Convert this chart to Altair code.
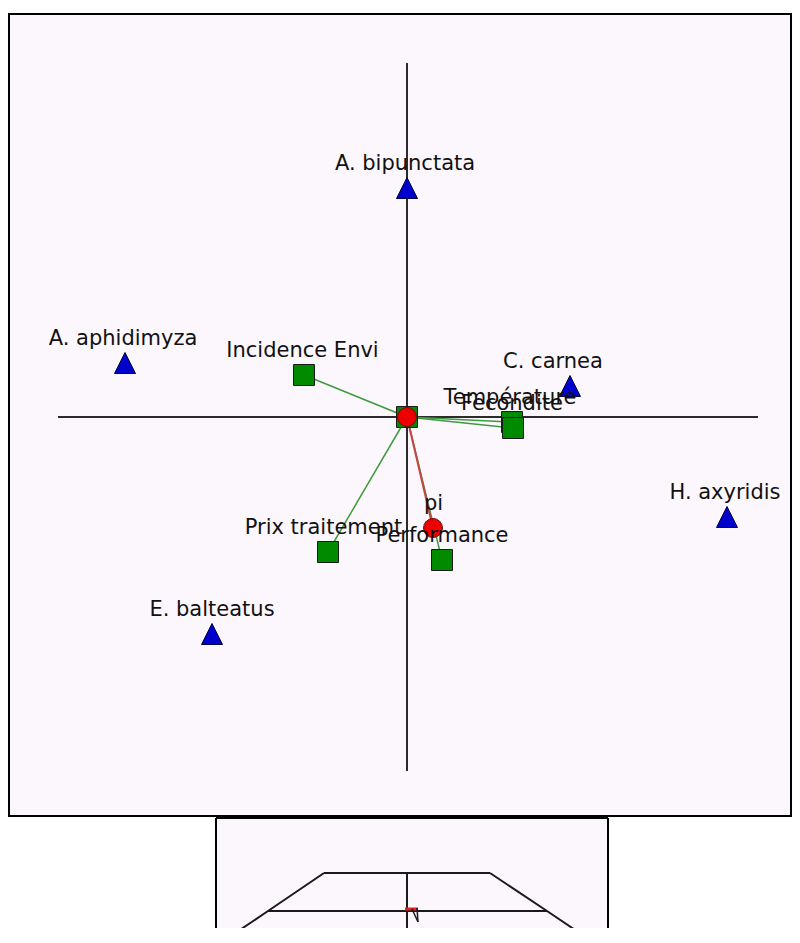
import altair as alt
import pandas as pd

# ---- ordination scores (main biplot), units ----
species = ["A. bipunctata", "A. aphidimyza", "C. carnea", "H. axyridis", "E. balteatus"]
species_x = [0.00, -2.82, 1.63, 3.20, -1.95]
species_y = [2.29, 0.54, 0.31, -1.00, -2.17]
species_label_x = [-0.02, -2.84, 1.46, 3.18, -1.95]

variables = ["Incidence Envi", "Température", "Fecondite", "Prix traitement", "Performance"]
variables_x = [-1.03, 1.05, 1.06, -0.79, 0.35]
variables_y = [0.42, -0.05, -0.11, -1.35, -1.43]
variables_label_x = [-1.045, 1.03, 1.05, -0.835, 0.35]

centroid_names = ["", "pi"]
centroid_x = [0.00, 0.26]
centroid_y = [0.00, -1.11]
centroid_label_x = [0.00, 0.265]

axis_h = [-3.49, 3.51]
axis_v = [3.54, -3.54]

# ---- small 3D orientation view (second panel) ----
frame_id = ["top", "top", "mid", "mid", "left", "left", "left", "right", "right", "right", "vert", "vert"]
frame_x = [-0.83, 0.83, -1.39, 1.40, -0.83, -1.39, -1.85, 0.83, 1.40, 1.86, 0.00, 0.00]
frame_y = [0.38, 0.38, 0.00, 0.00, 0.38, 0.00, -0.31, 0.38, 0.00, -0.31, 0.38, -0.31]
arrow_id = ["r", "r", "k1", "k1", "k2", "k2"]
arrow_x = [-0.02, 0.11, 0.05, 0.11, 0.10, 0.11]
arrow_y = [0.02, 0.02, 0.02, -0.11, 0.03, -0.11]

BG = "#fcf7fc"
FONT = "DejaVu Sans"
MAIN_W, MAIN_H = 782, 802
X_DOM = [-3.98, 3.84]
Y_DOM = [-3.99, 4.03]

sp = pd.DataFrame({"name": species, "x": species_x, "y": species_y, "lx": species_label_x})
var = pd.DataFrame({"name": variables, "x": variables_x, "y": variables_y, "lx": variables_label_x,
                    "x0": 0.0, "y0": 0.0})
cen = pd.DataFrame({"name": centroid_names, "x": centroid_x, "y": centroid_y, "lx": centroid_label_x,
                    "x0": 0.0, "y0": 0.0})
origin = pd.DataFrame({"x": [0.0], "y": [0.0]})
axes = pd.DataFrame({"x": [axis_h[0], 0.0], "x2": [axis_h[1], 0.0],
                     "y": [0.0, axis_v[0]], "y2": [0.0, axis_v[1]]})

xs = alt.Scale(domain=X_DOM, nice=False, zero=False)
ys = alt.Scale(domain=Y_DOM, nice=False, zero=False)


def X(f):
    return alt.X(f, type="quantitative", scale=xs, axis=None)


def Y(f):
    return alt.Y(f, type="quantitative", scale=ys, axis=None)


axis_layer = alt.Chart(axes).mark_rule(color="#2b2b2b", strokeWidth=2).encode(
    x=X("x"), x2="x2", y=Y("y"), y2="y2")

green_lines = alt.Chart(var).mark_rule(color="#3f9a3f", strokeWidth=1.5).encode(
    x=X("x0"), y=Y("y0"), x2="x", y2="y")

red_line = alt.Chart(cen[cen["name"] == "pi"]).mark_rule(color="#c84444", strokeWidth=2).encode(
    x=X("x0"), y=Y("y0"), x2="x", y2="y")

origin_square = alt.Chart(origin).mark_point(
    shape="square", filled=True, size=441, fill="#008a00", stroke="#1a1a1a", strokeWidth=1, opacity=1
).encode(x=X("x"), y=Y("y"))

squares = alt.Chart(var).mark_point(
    shape="square", filled=True, size=441, fill="#008a00", stroke="#1a1a1a", strokeWidth=1, opacity=1
).encode(x=X("x"), y=Y("y"))

circles = alt.Chart(cen).mark_point(
    shape="circle", filled=True, size=361, fill="#ee0000", stroke="#661111", strokeWidth=1, opacity=1
).encode(x=X("x"), y=Y("y"))

triangles = alt.Chart(sp).mark_point(
    shape="M0,-1L1,1L-1,1Z", filled=True, size=441, fill="#0000cc", stroke="#000044", strokeWidth=1,
    opacity=1
).encode(x=X("x"), y=Y("y"))

text_style = dict(font=FONT, fontSize=21, color="#111111", align="center", baseline="alphabetic", dy=-18)

sp_text = alt.Chart(sp).mark_text(**text_style).encode(x=X("lx"), y=Y("y"), text="name:N")
var_text = alt.Chart(var).mark_text(**text_style).encode(x=X("lx"), y=Y("y"), text="name:N")
cen_text = alt.Chart(cen[cen["name"] != ""]).mark_text(**text_style).encode(x=X("lx"), y=Y("y"), text="name:N")

main = alt.layer(
    axis_layer, green_lines, red_line, origin_square, squares, circles, triangles,
    sp_text, var_text, cen_text
).properties(
    width=MAIN_W, height=MAIN_H,
    view=alt.ViewBackground(fill=BG, stroke="#000000", strokeWidth=2),
)

# ---- second panel ----
P2_W, P2_H = 392, 110
xs2 = alt.Scale(domain=[-1.91, 2.01], nice=False, zero=False)
ys2 = alt.Scale(domain=[-0.17, 0.93], nice=False, zero=False)

frame = pd.DataFrame({"id": frame_id, "x": frame_x, "y": frame_y, "o": list(range(len(frame_x)))})
arrow = pd.DataFrame({"id": arrow_id, "x": arrow_x, "y": arrow_y, "o": list(range(len(arrow_x)))})

frame_layer = alt.Chart(frame).mark_line(color="#1a1a1a", strokeWidth=2, clip=True).encode(
    x=alt.X("x:Q", scale=xs2, axis=None), y=alt.Y("y:Q", scale=ys2, axis=None),
    detail="id:N", order="o:Q")

arrow_red = alt.Chart(arrow[arrow["id"] == "r"]).mark_line(color="#dd2222", strokeWidth=3, clip=True).encode(
    x=alt.X("x:Q", scale=xs2, axis=None), y=alt.Y("y:Q", scale=ys2, axis=None),
    detail="id:N", order="o:Q")

arrow_black = alt.Chart(arrow[arrow["id"] != "r"]).mark_line(color="#1a1a1a", strokeWidth=1.5, clip=True).encode(
    x=alt.X("x:Q", scale=xs2, axis=None), y=alt.Y("y:Q", scale=ys2, axis=None),
    detail="id:N", order="o:Q")

border_left = alt.Chart(origin).mark_rule(color="#000000", strokeWidth=2).encode(
    x=alt.value(0), y=alt.value(0), y2=alt.value(P2_H))
border_right = alt.Chart(origin).mark_rule(color="#000000", strokeWidth=2).encode(
    x=alt.value(P2_W), y=alt.value(0), y2=alt.value(P2_H))
border_top = alt.Chart(origin).mark_rule(color="#000000", strokeWidth=2).encode(
    x=alt.value(0), x2=alt.value(P2_W), y=alt.value(0))

panel2 = alt.layer(frame_layer, arrow_red, arrow_black, border_left, border_right, border_top).properties(
    width=P2_W, height=P2_H,
    view=alt.ViewBackground(fill=BG, stroke="transparent", strokeWidth=0),
)

spacer = alt.Chart(origin).mark_point(opacity=0, size=1).encode(
    x=alt.X("x:Q", axis=None), y=alt.Y("y:Q", axis=None)
).properties(width=206, height=P2_H, view=alt.ViewBackground(fill="white", stroke="transparent", strokeWidth=0))

chart = alt.vconcat(
    main,
    alt.hconcat(spacer, panel2, spacing=0),
    spacing=0,
).properties(
    padding={"left": 0, "top": 5, "right": 0, "bottom": 0},
    background="white",
)

chart.save("out.html", embed_options={"renderer": "svg", "actions": False})
